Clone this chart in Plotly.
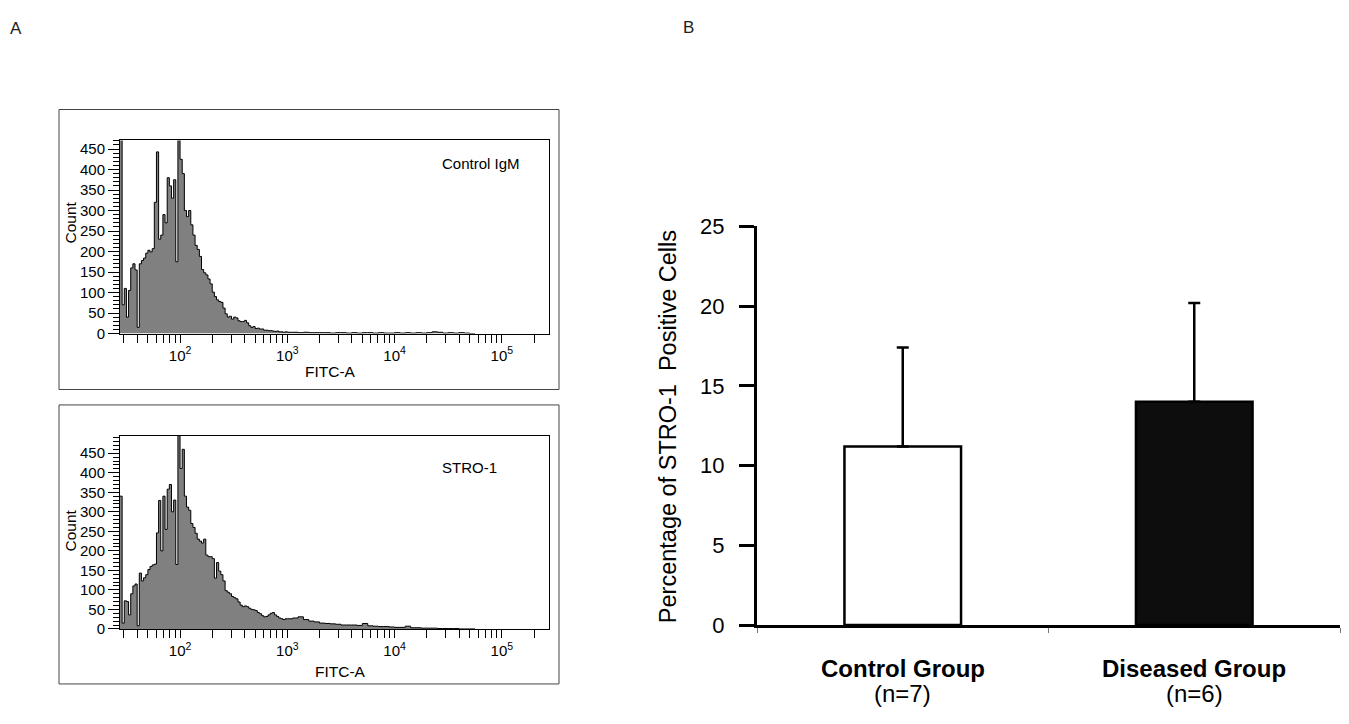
import plotly.graph_objects as go

# ---------------- data ----------------
# Flow-cytometry histograms: event counts per FITC-A channel (log10 bins)
hist_main_start_log = 1.44
hist_main_step_log = 0.02
hist_tail_start_log = 3.0
hist_tail_step_log = 0.05

control_igm_main = [500, 70, 110, 40, 105, 160, 170, 155, 15, 170,
                    178, 184, 196, 203, 199, 207, 320, 443, 230, 240,
                    290, 270, 380, 360, 330, 375, 175, 500, 425, 390,
                    300, 285, 300, 265, 240, 215, 205, 188, 156, 148,
                    143, 133, 121, 101, 90, 82, 78, 76, 62, 48,
                    40, 42, 35, 40, 38, 31, 29, 29, 32, 26,
                    19, 15, 17, 12, 13, 11, 11, 8, 8, 7,
                    7, 6, 5, 6, 4, 4, 3, 4]
control_igm_tail = [3, 3, 2, 3, 2, 2, 2, 2, 1, 2, 2, 1, 2, 1, 2, 2, 1, 2,
                    1, 1, 2, 1, 2, 1, 2, 1, 2, 4, 3, 1, 2, 1, 2, 1, 0]

stro1_main = [340, 15, 72, 70, 36, 90, 110, 115, 8, 143,
              123, 131, 139, 152, 160, 164, 166, 246, 329, 200,
              340, 255, 358, 370, 300, 330, 165, 520, 411, 460,
              340, 312, 304, 270, 260, 245, 230, 225, 220, 230,
              189, 185, 185, 180, 130, 170, 148, 139, 123, 98,
              94, 90, 83, 80, 77, 69, 61, 57, 59, 57,
              53, 50, 49, 47, 42, 39, 34, 31, 32, 36,
              40, 42, 36, 32, 28, 26, 24, 26]
stro1_tail = [26, 28, 31, 24, 20, 18, 15, 14, 13, 12, 10, 10, 10, 9, 14,
              8, 7, 6, 6, 5, 4, 4, 7, 3, 3, 2, 2, 2, 1, 1, 1, 1, 0, 0, 0]

hist_labels = ["Control IgM", "STRO-1"]
hist_ranges_max = [471, 494.5]
decade_ticks = [100, 1000, 10000, 100000]
decade_text = ["10<sup>2</sup>", "10<sup>3</sup>", "10<sup>4</sup>", "10<sup>5</sup>"]
minor_ticks = [30, 40, 50, 60, 70, 80, 90,
               200, 300, 400, 500, 600, 700, 800, 900,
               2000, 3000, 4000, 5000, 6000, 7000, 8000, 9000,
               20000, 30000, 40000, 50000, 60000, 70000, 80000, 90000,
               200000]

# Bar chart
groups = ["Control Group", "Diseased Group"]
group_n = ["(n=7)", "(n=6)"]
stro1_percent = [11.2, 14.0]
stro1_sd = [6.2, 6.2]
bar_colors = ["white", "#0d0d0d"]

W, H = 1349, 724
FONT = "Liberation Sans, Arial, sans-serif"


def px_x(p):
    return p / W


def px_y(p):
    return 1 - p / H


def step_xy(main, tail):
    xs, ys = [], []
    for i, v in enumerate(main):
        xs.append(10 ** (hist_main_start_log + i * hist_main_step_log))
        ys.append(v)
    for j, v in enumerate(tail):
        xs.append(10 ** (hist_tail_start_log + j * hist_tail_step_log))
        ys.append(v)
    xs.append(10 ** (hist_tail_start_log + len(tail) * hist_tail_step_log))
    ys.append(tail[-1])
    return xs, ys


fig = go.Figure()

series = [(control_igm_main, control_igm_tail), (stro1_main, stro1_tail)]
for k, (m, t) in enumerate(series):
    xs, ys = step_xy(m, t)
    ax = "" if k == 0 else str(k + 1)
    fig.add_trace(go.Scatter(
        x=xs, y=ys, mode="lines", line=dict(shape="hv", color="black", width=1),
        fill="tozeroy", fillcolor="#808080", xaxis="x" + ax, yaxis="y" + ax,
        showlegend=False, hoverinfo="skip"))

fig.add_trace(go.Bar(
    x=groups, y=stro1_percent, width=0.4,
    marker=dict(color=bar_colors, line=dict(color="black", width=2.5)),
    error_y=dict(type="data", symmetric=False, array=stro1_sd, arrayminus=[0, 0],
                 color="black", thickness=2.5, width=6),
    xaxis="x3", yaxis="y3", showlegend=False))

hist_xdom = [px_x(120), px_x(549)]
hist_ydoms = [[px_y(333), px_y(133)], [px_y(639), px_y(439)]]


def hist_xaxis(anchor):
    return dict(domain=hist_xdom, anchor=anchor, type="log", range=[1.44, 5.44],
                showline=True, linecolor="black", linewidth=1, mirror=True,
                ticks="outside", tickvals=decade_ticks, ticktext=decade_text,
                ticklen=8, tickcolor="black", tickwidth=1,
                tickfont=dict(size=15, color="black", family=FONT),
                minor=dict(tickvals=minor_ticks, ticks="outside", ticklen=8,
                           tickcolor="black", tickwidth=1),
                showgrid=False, zeroline=False)


def hist_yaxis(anchor, dom, top):
    return dict(domain=dom, anchor=anchor, range=[0, top],
                showline=True, linecolor="black", linewidth=1, mirror=True,
                ticks="outside", tick0=0, dtick=50, ticklen=11, tickcolor="black",
                tickfont=dict(size=15, color="black", family=FONT),
                minor=dict(dtick=10, ticks="outside", ticklen=6, tickcolor="black"),
                showgrid=False, zeroline=False)


fig.update_layout(
    width=W, height=H, autosize=False,
    margin=dict(l=0, r=0, t=0, b=0),
    paper_bgcolor="white", plot_bgcolor="white",
    font=dict(family=FONT, color="black"),
    xaxis=hist_xaxis("y"),
    yaxis=hist_yaxis("x", hist_ydoms[0], hist_ranges_max[0]),
    xaxis2=hist_xaxis("y2"),
    yaxis2=hist_yaxis("x2", hist_ydoms[1], hist_ranges_max[1]),
    xaxis3=dict(domain=[px_x(757), px_x(1340)], anchor="y3", type="category",
                range=[-0.5, 1.5], showline=True, linecolor="black", linewidth=3,
                ticks="outside", tickson="boundaries", ticklen=5, tickwidth=1,
                tickcolor="#777", showticklabels=False, showgrid=False, zeroline=False),
    yaxis3=dict(domain=[px_y(635), px_y(222)], anchor="x3", range=[0, 25],
                tickvals=[0, 5, 10, 15, 20, 25], showline=True, linecolor="black",
                linewidth=3, ticks="outside", ticklen=15, tickwidth=3, tickcolor="black",
                tickfont=dict(size=22, color="black", family=FONT),
                ticklabelstandoff=10, showgrid=False, zeroline=False),
    bargap=0.6,
)

# outer frames around histogram panels
for y0, y1 in [(391, 101), (696, 407)]:
    fig.add_shape(type="rect", xref="paper", yref="paper",
                  x0=px_x(59), x1=px_x(559), y0=px_y(y0), y1=px_y(y1),
                  line=dict(color="#444", width=1), layer="below")

ann = []
# histogram texts
for k, (lab_y, cnt_y, fitc_x, fitc_y) in enumerate([(157, 218, 330, 372), (472, 537, 340, 683)]):
    ann.append(dict(text=hist_labels[k], x=px_x(440), y=px_y(lab_y), xref="paper", yref="paper",
                    xanchor="left", yanchor="middle", showarrow=False,
                    font=dict(size=15, color="black", family=FONT)))
    ann.append(dict(text="Count", x=px_x(70), y=px_y(cnt_y), xref="paper", yref="paper",
                    textangle=-90, xanchor="center", yanchor="middle", showarrow=False,
                    font=dict(size=15.5, color="black", family=FONT)))
    ann.append(dict(text="FITC-A", x=px_x(fitc_x), y=px_y(fitc_y), xref="paper", yref="paper",
                    xanchor="center", yanchor="middle", showarrow=False,
                    font=dict(size=15.5, color="black", family=FONT)))

# bar chart texts
ann.append(dict(text="Percentage of STRO-1\u00a0 Positive Cells", x=px_x(668), y=px_y(430),
                xref="paper", yref="paper", textangle=-90, xanchor="center", yanchor="middle",
                showarrow=False, font=dict(size=23.5, color="black", family=FONT)))
for g, n in zip(groups, group_n):
    ann.append(dict(text="<b>" + g + "</b>", x=g, y=px_y(680), xref="x3", yref="paper",
                    xanchor="center", yanchor="middle", showarrow=False,
                    font=dict(size=24, color="black", family=FONT)))
    ann.append(dict(text=n, x=g, y=px_y(706), xref="x3", yref="paper",
                    xanchor="center", yanchor="middle", showarrow=False,
                    font=dict(size=24, color="black", family=FONT)))

# panel letters
ann.append(dict(text="A", x=px_x(16), y=px_y(17), xref="paper", yref="paper",
                xanchor="center", yanchor="middle", showarrow=False,
                font=dict(size=17, color="#222", family=FONT)))
ann.append(dict(text="B", x=px_x(688), y=px_y(16), xref="paper", yref="paper",
                xanchor="center", yanchor="middle", showarrow=False,
                font=dict(size=17, color="#222", family=FONT)))

fig.update_layout(annotations=ann)

pin_script = (
    "var gd=document.getElementById('{plot_id}');"
    "document.body.style.margin='0';document.body.style.overflow='hidden';"
    "document.documentElement.style.overflow='hidden';"
    "gd.style.position='fixed';gd.style.left='0px';gd.style.top='0px';"
)
fig.write_html("out.html", config={"displayModeBar": False}, post_script=pin_script)
